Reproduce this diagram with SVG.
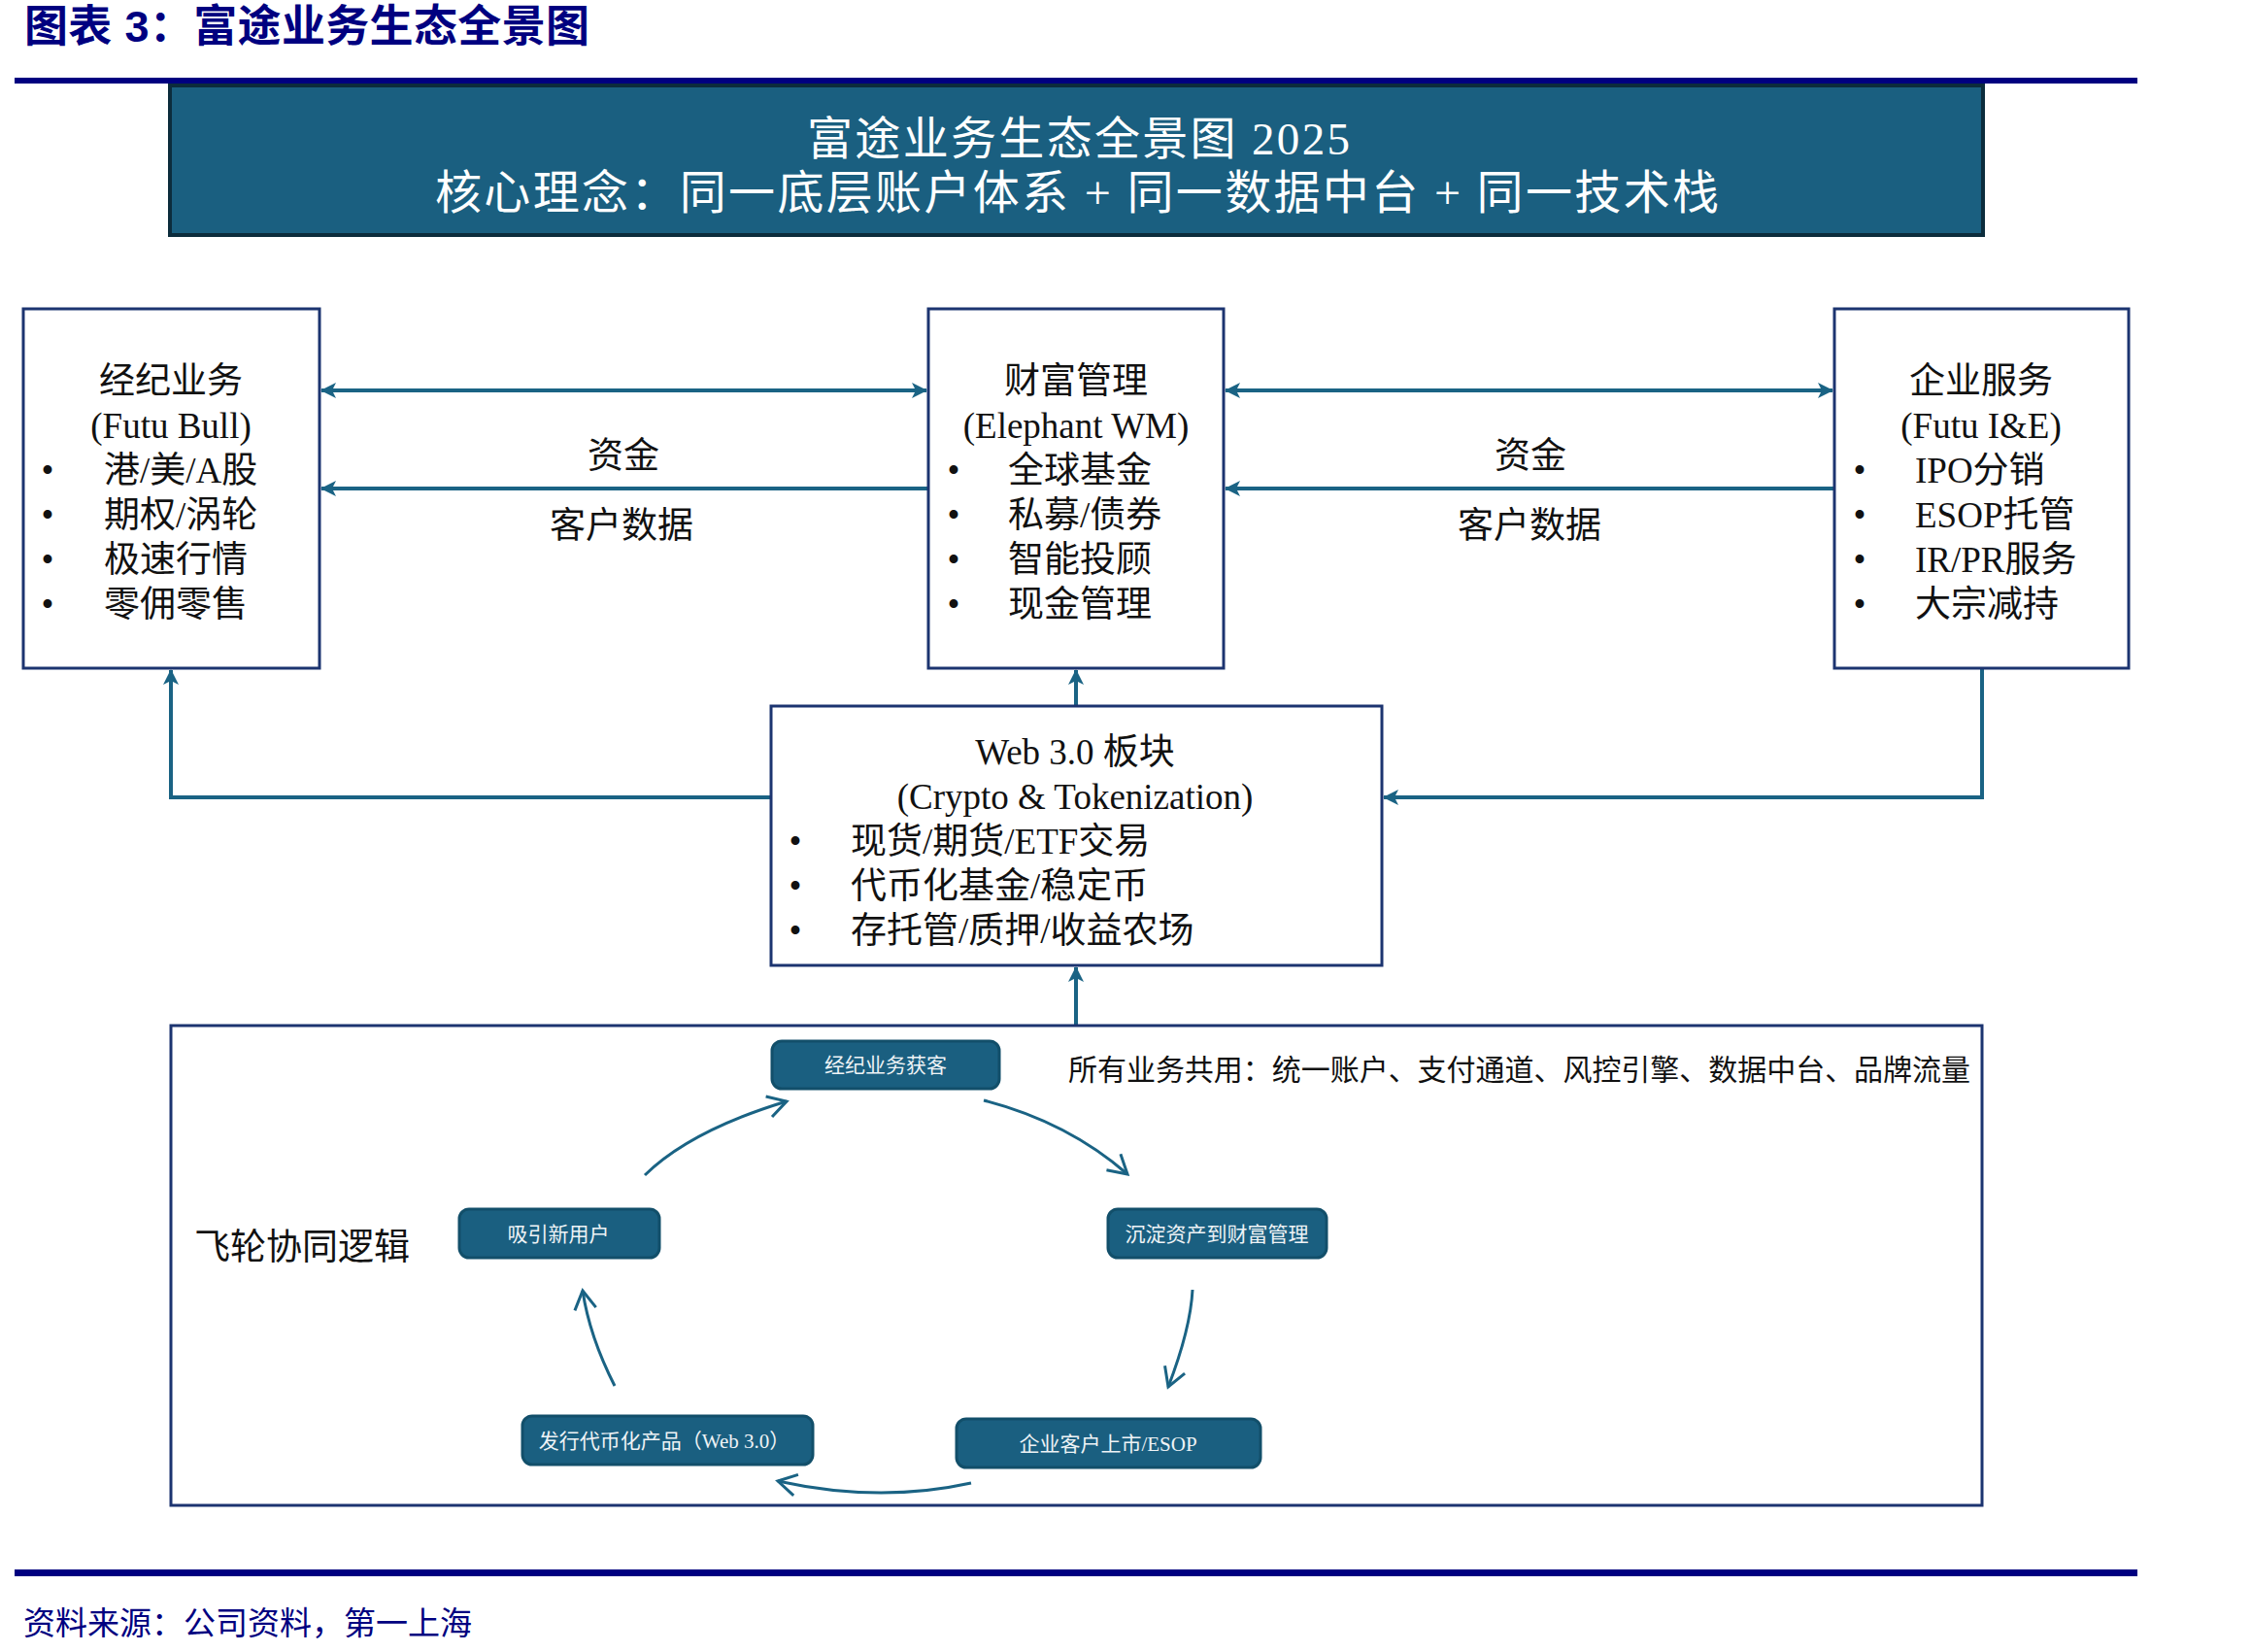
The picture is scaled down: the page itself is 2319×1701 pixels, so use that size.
<svg xmlns="http://www.w3.org/2000/svg" width="2319" height="1701" viewBox="0 0 2319 1701">
<style>
.t{font-family:"Liberation Serif","Noto Sans CJK SC",serif;fill:#111;}
.b37{font-size:37px;}
.hd{font-family:"Liberation Serif","Noto Sans CJK SC",serif;fill:#ffffff;}
.box{fill:#ffffff;stroke:#1c3470;stroke-width:3;}
.conn{fill:none;stroke:#1a6384;stroke-width:4;}
.curve{fill:none;stroke:#1a6384;stroke-width:3;}
.node{fill:#1a5f80;stroke:#124f6a;stroke-width:3;}
.nt{font-family:"Liberation Serif","Noto Sans CJK SC",serif;font-size:21px;fill:#eef3f6;text-anchor:middle;}
.mid{text-anchor:middle;}
</style>
<defs>
<marker id="ah" markerUnits="userSpaceOnUse" viewBox="0 0 16 16" markerWidth="16" markerHeight="16" refX="15" refY="8" orient="auto-start-reverse">
<path d="M0,0 L16,8 L0,16 L4,8 z" fill="#1a6384"/>
</marker>
<marker id="chev" markerUnits="userSpaceOnUse" viewBox="-22 -14 24 28" markerWidth="24" markerHeight="28" refX="0" refY="0" orient="auto" overflow="visible">
<path d="M-19,-11 L0,0 L-19,11" fill="none" stroke="#1a6384" stroke-width="3"/>
</marker>
</defs>
<rect width="2319" height="1701" fill="#ffffff"/>

<!-- title -->
<text x="25" y="43" font-family="'Liberation Sans','Noto Sans CJK SC',sans-serif" font-weight="bold" font-size="45" fill="#000080" textLength="582" lengthAdjust="spacing">图表 3：富途业务生态全景图</text>
<rect x="15" y="80" width="2186" height="6" fill="#000080"/>

<!-- header -->
<g id="header">
<rect x="175" y="88" width="1867" height="154" fill="#1a5f80" stroke="#0c2c3c" stroke-width="4"/>
<text class="hd" x="831" y="159" font-size="47" textLength="559" lengthAdjust="spacing">富途业务生态全景图 2025</text>
<text class="hd" x="448" y="215" font-size="48" textLength="1322" lengthAdjust="spacing">核心理念：同一底层账户体系 + 同一数据中台 + 同一技术栈</text>
</g>

<!-- connectors -->
<g id="connectors">
<line class="conn" x1="331" y1="402" x2="954" y2="402" marker-start="url(#ah)" marker-end="url(#ah)"/>
<line class="conn" x1="956" y1="503" x2="331" y2="503" marker-end="url(#ah)"/>
<line class="conn" x1="1262" y1="402" x2="1887" y2="402" marker-start="url(#ah)" marker-end="url(#ah)"/>
<line class="conn" x1="1889" y1="503" x2="1262" y2="503" marker-end="url(#ah)"/>
<line class="conn" x1="1108" y1="726" x2="1108" y2="690" marker-end="url(#ah)"/>
<polyline class="conn" points="793,821 176,821 176,690" marker-end="url(#ah)"/>
<polyline class="conn" points="2041,689 2041,821 1425,821" marker-end="url(#ah)"/>
<line class="conn" x1="1108" y1="1055" x2="1108" y2="996" marker-end="url(#ah)"/>
<text class="t b37 mid" x="642" y="482">资金</text>
<text class="t b37 mid" x="640" y="554">客户数据</text>
<text class="t b37 mid" x="1576" y="482">资金</text>
<text class="t b37 mid" x="1575" y="554">客户数据</text>
</g>

<!-- brokerage -->
<g id="node-brokerage">
<rect class="box" x="24" y="318" width="305" height="370"/>
<text class="t b37 mid" x="176" y="405">经纪业务</text>
<text class="t b37 mid" x="176" y="451">(Futu Bull)</text>
<text class="t b37 mid" x="49" y="497">•</text>
<text class="t b37 mid" x="49" y="543">•</text>
<text class="t b37 mid" x="49" y="589">•</text>
<text class="t b37 mid" x="49" y="635">•</text>
<text class="t b37" x="107" y="497">港/美/A股</text>
<text class="t b37" x="107" y="543">期权/涡轮</text>
<text class="t b37" x="107" y="589">极速行情</text>
<text class="t b37" x="107" y="635">零佣零售</text>
</g>

<!-- wealth -->
<g id="node-wealth">
<rect class="box" x="956" y="318" width="304" height="370"/>
<text class="t b37 mid" x="1108" y="405">财富管理</text>
<text class="t b37 mid" x="1108" y="451">(Elephant WM)</text>
<text class="t b37 mid" x="982" y="497">•</text>
<text class="t b37 mid" x="982" y="543">•</text>
<text class="t b37 mid" x="982" y="589">•</text>
<text class="t b37 mid" x="982" y="635">•</text>
<text class="t b37" x="1038" y="497">全球基金</text>
<text class="t b37" x="1038" y="543">私募/债券</text>
<text class="t b37" x="1038" y="589">智能投顾</text>
<text class="t b37" x="1038" y="635">现金管理</text>
</g>

<!-- enterprise -->
<g id="node-enterprise">
<rect class="box" x="1889" y="318" width="303" height="370"/>
<text class="t b37 mid" x="2040" y="405">企业服务</text>
<text class="t b37 mid" x="2040" y="451">(Futu I&amp;E)</text>
<text class="t b37 mid" x="1915" y="497">•</text>
<text class="t b37 mid" x="1915" y="543">•</text>
<text class="t b37 mid" x="1915" y="589">•</text>
<text class="t b37 mid" x="1915" y="635">•</text>
<text class="t b37" x="1972" y="497">IPO分销</text>
<text class="t b37" x="1972" y="543">ESOP托管</text>
<text class="t b37" x="1972" y="589">IR/PR服务</text>
<text class="t b37" x="1972" y="635">大宗减持</text>
</g>

<!-- web3 -->
<g id="node-web3">
<rect class="box" x="794" y="727" width="629" height="267"/>
<text class="t b37 mid" x="1107" y="787">Web 3.0 板块</text>
<text class="t b37 mid" x="1107" y="833">(Crypto &amp; Tokenization)</text>
<text class="t b37 mid" x="819" y="879">•</text>
<text class="t b37 mid" x="819" y="925">•</text>
<text class="t b37 mid" x="819" y="971">•</text>
<text class="t b37" x="876" y="879">现货/期货/ETF交易</text>
<text class="t b37" x="876" y="925">代币化基金/稳定币</text>
<text class="t b37" x="876" y="971">存托管/质押/收益农场</text>
</g>

<!-- flywheel container -->
<g id="node-flywheel">
<rect class="box" x="176" y="1056" width="1865" height="494"/>
<text class="t b37" x="200" y="1297">飞轮协同逻辑</text>
<text class="t" x="1100" y="1112" font-size="30" textLength="929" lengthAdjust="spacing">所有业务共用：统一账户、支付通道、风控引擎、数据中台、品牌流量</text>
</g>

<g id="fw-acquire">
<rect class="node" x="795" y="1072" width="234" height="49" rx="10"/>
<text class="nt" x="912" y="1104">经纪业务获客</text>
</g>
<g id="fw-wealth">
<rect class="node" x="1141" y="1245" width="225" height="50" rx="10"/>
<text class="nt" x="1253" y="1278">沉淀资产到财富管理</text>
</g>
<g id="fw-ipo">
<rect class="node" x="985" y="1461" width="313" height="50" rx="10"/>
<text class="nt" x="1141" y="1494">企业客户上市/ESOP</text>
</g>
<g id="fw-token">
<rect class="node" x="538" y="1458" width="299" height="50" rx="10"/>
<text class="nt" x="684" y="1491">发行代币化产品（Web 3.0）</text>
</g>
<g id="fw-users">
<rect class="node" x="473" y="1245" width="206" height="50" rx="10"/>
<text class="nt" x="575" y="1278">吸引新用户</text>
</g>

<g id="fw-connectors">
<path class="curve" d="M664,1210 Q711,1164 810,1134" marker-end="url(#chev)"/>
<path class="curve" d="M1013,1133 Q1099,1155 1161,1209" marker-end="url(#chev)"/>
<path class="curve" d="M1228,1328 Q1226,1368 1203,1428" marker-end="url(#chev)"/>
<path class="curve" d="M1000,1527 Q905,1548 801,1525" marker-end="url(#chev)"/>
<path class="curve" d="M633,1427 Q607,1376 600,1329" marker-end="url(#chev)"/>
</g>

<!-- footer -->
<rect x="15" y="1616" width="2186" height="7" fill="#000080"/>
<text x="24" y="1683" font-family="'Liberation Serif','Noto Sans CJK SC',serif" font-size="33" fill="#000080">资料来源：公司资料，第一上海</text>
</svg>
